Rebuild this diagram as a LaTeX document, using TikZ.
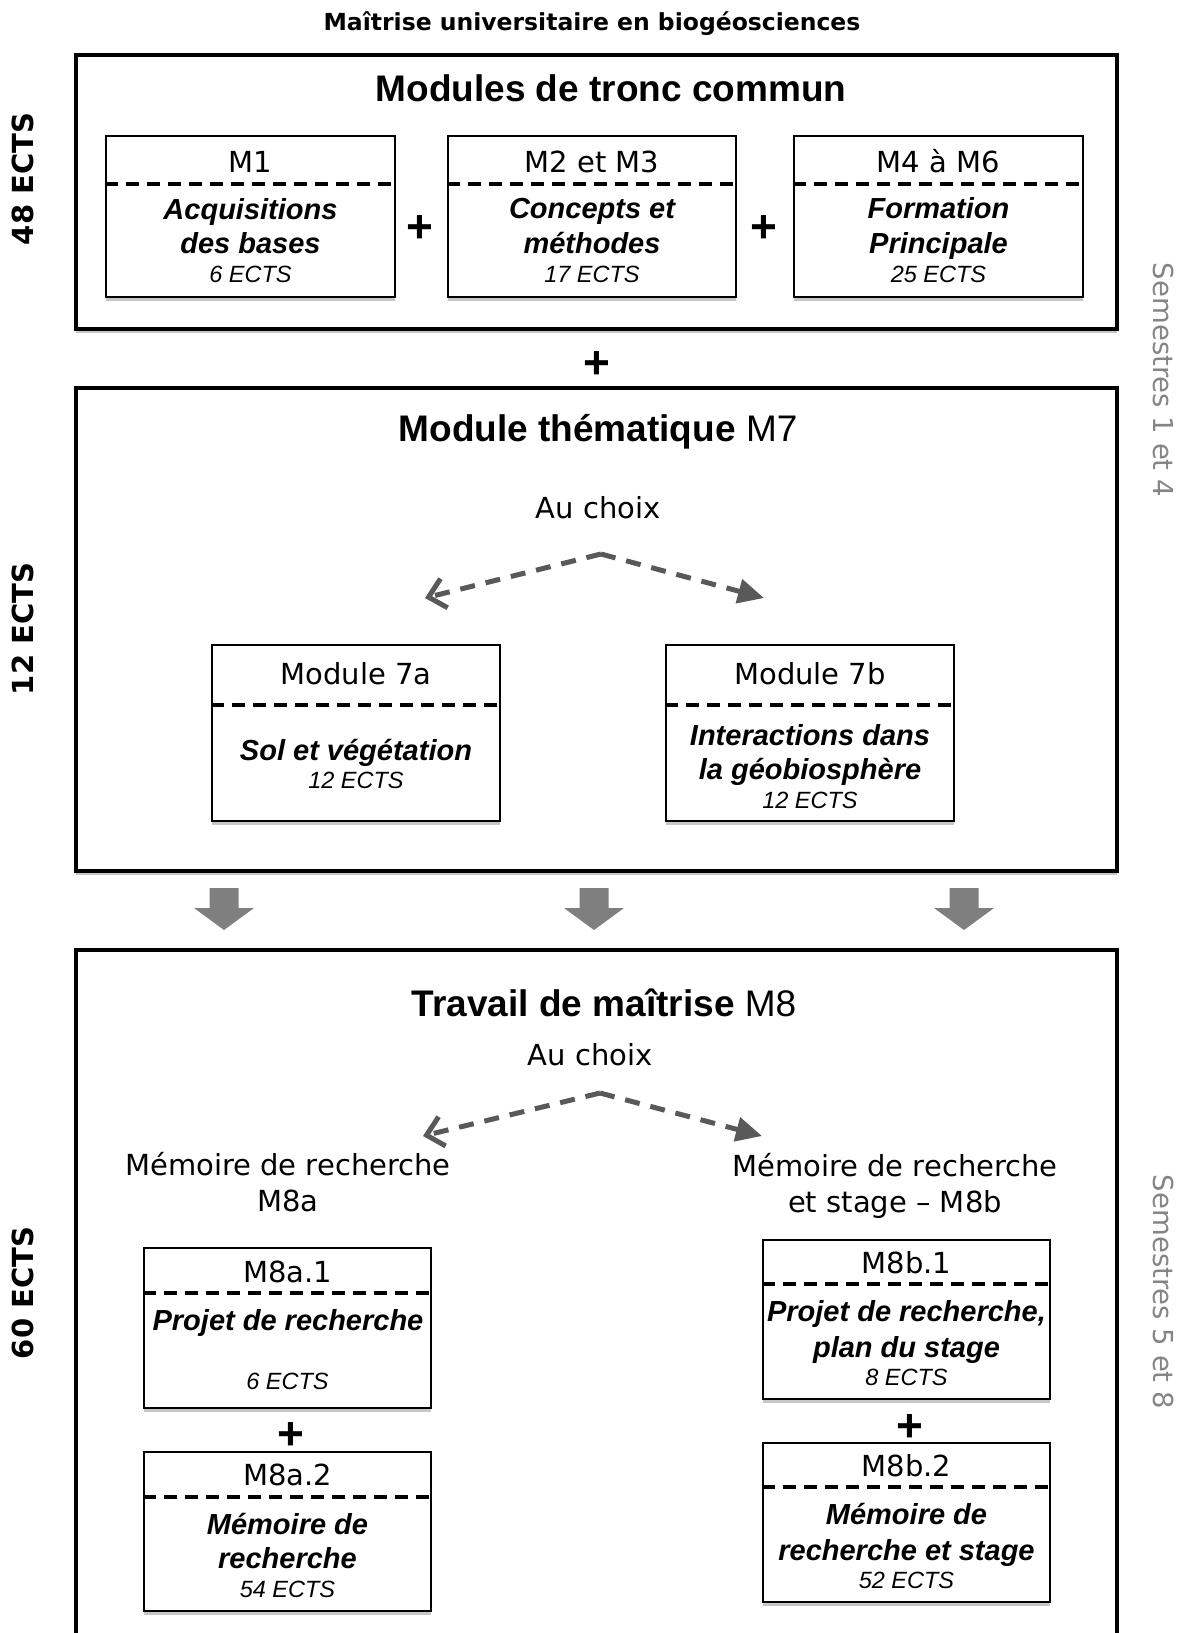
\documentclass[tikz,border=0pt]{standalone}
\usepackage{fontspec}
\setmainfont{Liberation Sans}
\newfontfamily\verd{DejaVu Sans}
\usetikzlibrary{arrows.meta,shadows}
\definecolor{dgray}{HTML}{595959}
\definecolor{mgray}{HTML}{7F7F7F}
\definecolor{lgray}{HTML}{858585}
\begin{document}
\begin{tikzpicture}[x=1pt,y=-1pt,
  shad/.style={drop shadow={shadow xshift=0pt, shadow yshift=-4pt, opacity=0.22, fill=black}},
  outerbox/.style={draw, line width=4pt, fill=white, minimum width=1041pt, inner sep=0pt, shad},
  subbox/.style={draw, line width=2pt, fill=white, minimum width=288pt, inner sep=0pt, shad},
  divider/.style={line width=4pt, dash pattern=on 13pt off 8pt},
  maintitle/.style={font=\verd\bfseries\fontsize{23.5}{28}\selectfont, inner sep=0pt, text height=17pt, text depth=0pt},
  boxtitle/.style={font=\fontsize{37}{44}\selectfont, inner sep=0pt, text height=26.5pt, text depth=0pt},
  hdr/.style={font=\verd\fontsize{29}{35}\selectfont, inner sep=0pt, text height=21pt, text depth=0pt},
  bi/.style={font=\bfseries\itshape\fontsize{29}{35}\selectfont, inner sep=0pt, text height=21pt, text depth=0pt},
  ects/.style={font=\itshape\fontsize{23.5}{28}\selectfont, inner sep=0pt, text height=17pt, text depth=0pt},
  plus/.style={font=\bfseries\fontsize{46}{50}\selectfont, inner sep=0pt, text height=33.6pt, text depth=0pt},
  sidel/.style={font=\verd\bfseries\fontsize{29}{34}\selectfont, inner sep=0pt, text height=21pt, text depth=0pt, rotate=90},
  sider/.style={font=\verd\fontsize{27.5}{33}\selectfont, text=lgray, inner sep=0pt, text height=20pt, text depth=0pt, rotate=-90},
  choice/.style={draw=dgray, line width=5pt, dash pattern=on 15pt off 11pt},
  leftend/.style={-{Straight Barb[length=16pt, width=30pt, line width=5pt]}},
  rightend/.style={-{Triangle[length=26pt, width=24pt]}},
  blockarrow/.style={fill=mgray}
]
\useasboundingbox (0,0) rectangle (1189,1633);
\clip (0,0) rectangle (1189,1633);

% title
\node[maintitle] (title) at (592,22) {Maîtrise universitaire en biogéosciences};

% ---------- Box 1
\node[outerbox, minimum height=274pt] (b1) at (596.5,192) {};
\node[boxtitle, font=\bfseries\fontsize{37}{44}\selectfont] (b1t) at (611,88) {Modules de tronc commun};

\node[subbox, minimum height=161pt, minimum width=289pt] (m1) at (250.5,216.5) {};
\draw[divider] ([yshift=-49pt]m1.north west) -- ([yshift=-49pt]m1.north east);
\node[hdr] (m1h) at (250.5,162) {M1};
\node[bi] (m1a) at (250.5,209) {Acquisitions};
\node[bi] (m1b) at (250.5,243) {des bases};
\node[ects] (m1c) at (250.5,274) {6 ECTS};

\node[subbox, minimum height=161pt] (m2) at (592,216.5) {};
\draw[divider] ([yshift=-49pt]m2.north west) -- ([yshift=-49pt]m2.north east);
\node[hdr] (m2h) at (592,162) {M2 et M3};
\node[bi] (m2a) at (592,208) {Concepts et};
\node[bi] (m2b) at (592,243) {méthodes};
\node[ects] (m2c) at (592,274) {17 ECTS};

\node[subbox, minimum height=161pt, minimum width=289pt] (m3) at (938.5,216.5) {};
\draw[divider] ([yshift=-49pt]m3.north west) -- ([yshift=-49pt]m3.north east);
\node[hdr] (m3h) at (938.5,162) {M4 à M6};
\node[bi] (m3a) at (938.5,208) {Formation};
\node[bi] (m3b) at (938.5,243) {Principale};
\node[ects] (m3c) at (938.5,274) {25 ECTS};

\node[plus] (p1) at (420,226) {+};
\node[plus] (p2) at (764,226) {+};
\node[plus] (p3) at (597,362) {+};

% ---------- Box 2
\node[outerbox, minimum height=483pt] (b2) at (596.5,629.5) {};
\node[boxtitle] (b2t) at (598,428) {\textbf{Module thématique} M7};
\node[hdr] (ch1) at (598,508) {Au choix};
\coordinate (ap1) at (601,554);
\coordinate (l1) at (425,598);
\coordinate (r1) at (764,598);
\draw[choice, leftend] (ap1) -- (l1);
\draw[choice, rightend] (ap1) -- (r1);

\node[subbox, minimum height=176pt] (m7a) at (356,733) {};
\draw[divider] ([yshift=-61pt]m7a.north west) -- ([yshift=-61pt]m7a.north east);
\node[hdr] (m7ah) at (356,674) {Module 7a};
\node[bi] (m7aa) at (356,750) {Sol et végétation};
\node[ects] (m7ac) at (356,780) {12 ECTS};

\node[subbox, minimum height=176pt] (m7b) at (810,733) {};
\draw[divider] ([yshift=-61pt]m7b.north west) -- ([yshift=-61pt]m7b.north east);
\node[hdr] (m7bh) at (810,674) {Module 7b};
\node[bi] (m7ba) at (810,735) {Interactions dans};
\node[bi] (m7bb) at (810,769) {la géobiosphère};
\node[ects] (m7bc) at (810,800) {12 ECTS};

% ---------- block arrows
\coordinate (ar1) at (224,888);
\coordinate (ar2) at (594,888);
\coordinate (ar3) at (964,888);
\foreach \a in {ar1,ar2,ar3}
  \fill[blockarrow, shift={(\a)}] (-14.5,0) -- (14.5,0) -- (14.5,20) -- (30,20) -- (0,42) -- (-30,20) -- (-14.5,20) -- cycle;

% ---------- Box 3
\node[outerbox, minimum height=700pt] (b3) at (596.5,1300) {};
\node[boxtitle] (b3t) at (604,1003) {\textbf{Travail de maîtrise} M8};
\node[hdr] (ch2) at (590,1055) {Au choix};
\coordinate (ap2) at (600,1093);
\coordinate (l2) at (423,1136);
\coordinate (r2) at (762,1136);
\draw[choice, leftend] (ap2) -- (l2);
\draw[choice, rightend] (ap2) -- (r2);

\node[hdr] (ma1) at (288,1165) {Mémoire de recherche};
\node[hdr] (ma2) at (288,1201) {M8a};
\node[hdr] (mb1) at (895,1166) {Mémoire de recherche};
\node[hdr] (mb2) at (895,1202) {et stage – M8b};

\node[subbox, minimum height=160pt, minimum width=287pt] (m8a1) at (287.5,1328) {};
\draw[divider] ([yshift=-46pt]m8a1.north west) -- ([yshift=-46pt]m8a1.north east);
\node[hdr] (m8a1h) at (287.5,1272) {M8a.1};
\node[bi] (m8a1a) at (288,1320) {Projet de recherche};
\node[ects] (m8a1c) at (287.5,1381) {6 ECTS};

\node[plus] (p4) at (291,1433) {+};

\node[subbox, minimum height=159pt, minimum width=287pt] (m8a2) at (287.5,1531.5) {};
\draw[divider] ([yshift=-46pt]m8a2.north west) -- ([yshift=-46pt]m8a2.north east);
\node[hdr] (m8a2h) at (287.5,1475) {M8a.2};
\node[bi] (m8a2a) at (287.5,1524) {Mémoire de};
\node[bi] (m8a2b) at (287.5,1558) {recherche};
\node[ects] (m8a2c) at (287.5,1589) {54 ECTS};

\node[subbox, minimum height=159pt, minimum width=287pt] (m8b1) at (906.5,1319.5) {};
\draw[divider] ([yshift=-45pt]m8b1.north west) -- ([yshift=-45pt]m8b1.north east);
\node[hdr] (m8b1h) at (906.5,1263) {M8b.1};
\node[bi] (m8b1a) at (906.5,1311) {Projet de recherche,};
\node[bi] (m8b1b) at (906.5,1347) {plan du stage};
\node[ects] (m8b1c) at (906.5,1377) {8 ECTS};

\node[plus] (p5) at (910,1425) {+};

\node[subbox, minimum height=159pt, minimum width=287pt] (m8b2) at (906.5,1522.5) {};
\draw[divider] ([yshift=-45pt]m8b2.north west) -- ([yshift=-45pt]m8b2.north east);
\node[hdr] (m8b2h) at (906.5,1466) {M8b.2};
\node[bi] (m8b2a) at (906.5,1514) {Mémoire de};
\node[bi] (m8b2b) at (906.5,1550) {recherche et stage};
\node[ects] (m8b2c) at (906.5,1580) {52 ECTS};

% ---------- side labels
\node[sidel] (e1) at (23,179) {48 ECTS};
\node[sidel] (e2) at (23,629) {12 ECTS};
\node[sidel] (e3) at (23,1293) {60 ECTS};
\node[sider] (s1) at (1163,380) {Semestres 1 et 4};
\node[sider] (s2) at (1163,1292) {Semestres 5 et 8};
\end{tikzpicture}
\end{document}
